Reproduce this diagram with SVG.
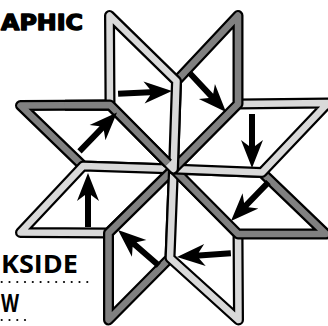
<svg xmlns="http://www.w3.org/2000/svg" width="328" height="326" viewBox="0 0 328 326">
<style>
.o{fill:#fff;stroke:#000;stroke-width:11;stroke-linejoin:round}
.ok{fill:none;stroke:#000;stroke-width:11;stroke-linejoin:round}
.l{fill:none;stroke:#d9d9d9;stroke-width:6.5;stroke-linejoin:round}
.d{fill:none;stroke:#808080;stroke-width:6.5;stroke-linejoin:round}
.t1{font-family:"DejaVu Sans",sans-serif;font-weight:bold;font-size:22px;fill:#000;stroke:#000;stroke-width:1.4;stroke-linejoin:round}
.t2{font-family:"Open Sans","Noto Sans",sans-serif;font-weight:bold;font-size:25px;fill:#000}
.dot{fill:#000}
</style>
<defs>
<path id="arr" d="M0,0 L-28,-11 L-22,-3 L-54,-3 L-54,3 L-22,3 L-28,11 Z"/>
</defs>
<rect width="328" height="326" fill="#fff"/>
<g id="rhombus8"><polygon class="o" points="173.5,169 83,166 20.5,105.5 110,105"/><polygon class="d" points="173.5,169 83,166 20.5,105.5 110,105"/></g>
<g id="rhombus7"><polygon class="o" points="173.5,169 108.5,233 20.5,232.5 83,166"/><polygon class="l" points="173.5,169 108.5,233 20.5,232.5 83,166"/></g>
<g id="rhombus6"><polygon class="o" points="173.5,169 170,258 108.5,320 108.5,233"/><polygon class="d" points="173.5,169 170,258 108.5,320 108.5,233"/></g>
<g id="rhombus5"><polygon class="o" points="173.5,169 238,234 238.5,320 170,258"/><polygon class="l" points="173.5,169 238,234 238.5,320 170,258"/></g>
<g id="rhombus4"><polygon class="o" points="173.5,169 262,172.5 326,234 238,234"/><polygon class="d" points="173.5,169 262,172.5 326,234 238,234"/></g>
<g id="rhombus3"><polygon class="o" points="173.5,169 238,104 328,103 262,172.5"/><polygon class="l" points="173.5,169 238,104 328,103 262,172.5"/></g>
<g id="rhombus2"><polygon class="o" points="173.5,169 176.5,81 238,15.5 238,104"/><polygon class="d" points="173.5,169 176.5,81 238,15.5 238,104"/></g>
<g id="rhombus1"><polygon class="o" points="173.5,169 176.5,81 109.5,15.5 110,105"/><polygon class="l" points="173.5,169 176.5,81 109.5,15.5 110,105"/></g>
<g id="rhombus8-overlap"><polyline class="ok" points="65,105.3 110,105 168,163.5"/><polyline class="d" points="65,105.3 110,105 168,163.5"/></g>
<g id="connectors">
<use href="#arr" transform="translate(172,91) rotate(-3)"/>
<use href="#arr" transform="translate(226,112) rotate(47)"/>
<use href="#arr" transform="translate(252,168) rotate(90)"/>
<use href="#arr" transform="translate(231,221) rotate(134)"/>
<use href="#arr" transform="translate(177,257) rotate(176)"/>
<use href="#arr" transform="translate(118,230) rotate(221)"/>
<use href="#arr" transform="translate(88,173) rotate(-90)"/>
<use href="#arr" transform="translate(117,112.5) rotate(-46)"/>
</g>
<g id="labels">
<text class="t1" x="1" y="30" textLength="82" lengthAdjust="spacingAndGlyphs">APHIC</text>
<text class="t2" x="1" y="273" textLength="77" lengthAdjust="spacingAndGlyphs">KSIDE</text>
<text class="t2" x="1" y="312" textLength="18" lengthAdjust="spacingAndGlyphs">W</text>
<g class="dot">
<circle cx="1.7" cy="282" r="1.1"/><circle cx="9.5" cy="282" r="1.1"/><circle cx="17.3" cy="282" r="1.1"/><circle cx="25" cy="282" r="1.1"/><circle cx="32.8" cy="282" r="1.1"/><circle cx="40.6" cy="282" r="1.1"/><circle cx="48.4" cy="282" r="1.1"/><circle cx="56.2" cy="282" r="1.1"/><circle cx="64" cy="282" r="1.1"/><circle cx="71.7" cy="282" r="1.1"/><circle cx="79.5" cy="282" r="1.1"/><circle cx="87.3" cy="282" r="1.1"/>
<circle cx="1.7" cy="320" r="1.1"/><circle cx="9.5" cy="320" r="1.1"/><circle cx="17.3" cy="320" r="1.1"/><circle cx="25" cy="320" r="1.1"/>
</g>
</g>
</svg>
